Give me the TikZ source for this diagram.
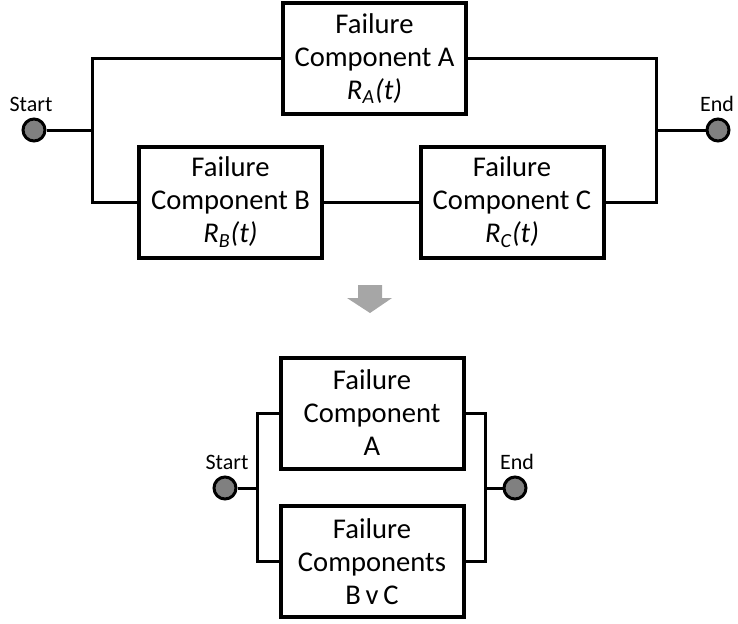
\documentclass[tikz,border=0pt]{standalone}
\usepackage{fontspec}
\setmainfont{Carlito}
\begin{document}
\begin{tikzpicture}[x=0.5pt, y=-0.5pt, font=\fontsize{14.3}{16.5}\selectfont,
  block/.style={draw, line width=2pt, minimum width=91.5pt, minimum height=55.5pt, align=center, inner sep=0pt},
  term/.style={circle, draw, fill=gray, line width=1.5pt, minimum size=11pt, inner sep=0pt},
  tlabel/.style={font=\fontsize{11}{13}\selectfont},
  wire/.style={line width=1.5pt}]
\useasboundingbox (0,0) rectangle (738,623);

% upper network
\node[block] (fa) at (374.5,58.5) {Failure\\Component A\\\itshape R\textsubscript{A}(t)};
\node[block] (fb) at (230.5,202) {Failure\\Component B\\\itshape R\textsubscript{B}(t)};
\node[block] (fc) at (512,202) {Failure\\Component C\\\itshape R\textsubscript{C}(t)};
\node[term] (st) at (34,130) {};
\node[term] (en) at (718,130) {};
\node[tlabel] at (31,104) {Start};
\node[tlabel] at (717,104) {End};
\coordinate (sj) at (92,130);
\coordinate (ej) at (656,130);
\draw[wire] (st) -- (sj);
\draw[wire] (fa.west) -| (sj) |- (fb.west);
\draw[wire] (fb) -- (fc);
\draw[wire] (fa.east) -| (ej) |- (fc.east);
\draw[wire] (ej) -- (en);

% arrow
\fill[gray!70] (358,285) -- (382,285) -- (382,298) -- (392,298) -- (370,313)
  -- (347,298) -- (358,298) -- cycle;

% reduced network
\node[block] (fa2) at (372,413) {Failure\\Component\\A};
\node[block] (fbc) at (372,561.5) {Failure\\Components\\B\,v\,C};
\node[term] (st2) at (225,488) {};
\node[term] (en2) at (515,488) {};
\node[tlabel] at (227,462) {Start};
\node[tlabel] at (517,462) {End};
\coordinate (sj2) at (257,488);
\coordinate (ej2) at (485,488);
\draw[wire] (st2) -- (sj2);
\draw[wire] (fa2.west) -| (sj2) |- (fbc.west);
\draw[wire] (fa2.east) -| (ej2) |- (fbc.east);
\draw[wire] (ej2) -- (en2);
\end{tikzpicture}
\end{document}
